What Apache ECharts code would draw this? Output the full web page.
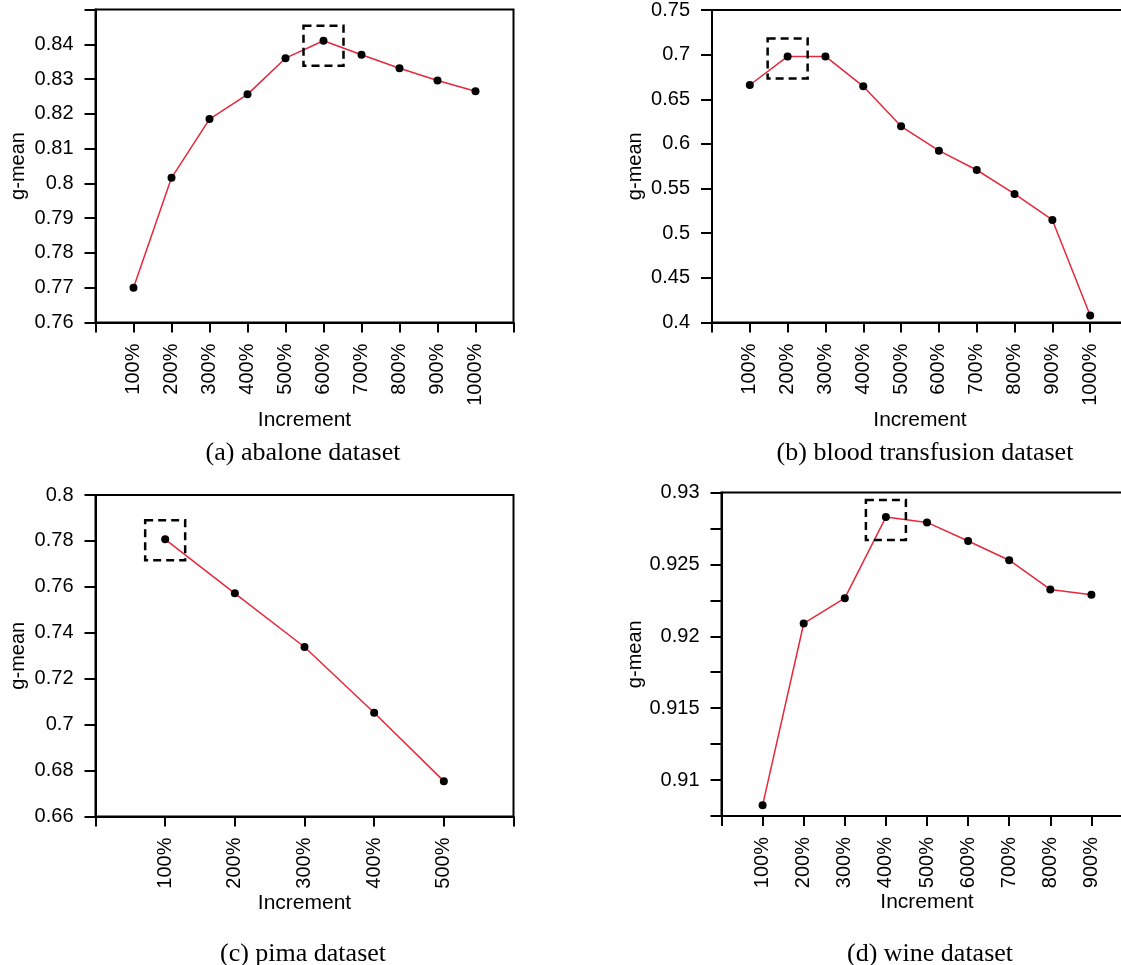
<!DOCTYPE html>
<html>
<head>
<meta charset="utf-8">
<script src="https://cdn.jsdelivr.net/npm/echarts@6/dist/echarts.min.js"></script>
<style>
  html, body { margin: 0; padding: 0; background: #fff; overflow: hidden; width: 1121px; height: 965px; }
  #chart { width: 1140px; height: 965px; }
</style>
</head>
<body>
<div id="chart"></div>
<script>
// ---- Data ----
const catsAbalone = ['100%', '200%', '300%', '400%', '500%', '600%', '700%', '800%', '900%', '1000%'];
const gmeanAbalone = [0.770, 0.8016, 0.8185, 0.8256, 0.8360, 0.8410, 0.8370, 0.8331, 0.8296, 0.8265];

const catsBlood = ['100%', '200%', '300%', '400%', '500%', '600%', '700%', '800%', '900%', '1000%'];
const gmeanBlood = [0.666, 0.698, 0.698, 0.6645, 0.6197, 0.5925, 0.5708, 0.544, 0.5149, 0.4078];

const catsPima = ['100%', '200%', '300%', '400%', '500%'];
const gmeanPima = [0.7807, 0.7572, 0.7338, 0.7052, 0.6754];

const catsWine = ['100%', '200%', '300%', '400%', '500%', '600%', '700%', '800%', '900%'];
const gmeanWine = [0.90824, 0.92089, 0.92265, 0.92829, 0.92792, 0.92663, 0.92529, 0.92326, 0.92289];

const captions = ['(a) abalone dataset', '(b) blood transfusion dataset', '(c) pima dataset', '(d) wine dataset'];

// ---- Styling / layout ----
const SANS = "'Liberation Sans', Arial, Helvetica, sans-serif";
const SERIF = "'Liberation Serif', 'Times New Roman', serif";
const RED = '#e6283c';

const panels = [
  { cats: catsAbalone, vals: gmeanAbalone, grid: { left: 95.5, top: 9.5, width: 418, height: 313 },
    y: { min: 0.76, max: 0.85, interval: 0.01, hideAbove: 0.845 }, xNameGap: 84, yNameGap: 67, boxOff: 5 },
  { cats: catsBlood, vals: gmeanBlood, grid: { left: 712, top: 9.5, width: 416, height: 313 },
    y: { min: 0.40, max: 0.75, interval: 0.05 }, xNameGap: 84, yNameGap: 67, boxOff: 2 },
  { cats: catsPima, vals: gmeanPima, grid: { left: 95.5, top: 495, width: 418, height: 321.5 },
    y: { min: 0.66, max: 0.80, interval: 0.02 }, xNameGap: 74, yNameGap: 67, boxOff: 1 },
  { cats: catsWine, vals: gmeanWine, grid: { left: 721.5, top: 492.5, width: 411, height: 323.5 },
    y: { min: 0.9075, max: 0.93, interval: 0.0025, labelEvery: 0.005 }, xNameGap: 76, yNameGap: 76, boxOff: 3 }
];

const captionPos = [
  { left: 298, top: 435 },
  { left: 920, top: 435 },
  { left: 298, top: 936 },
  { left: 925, top: 936 }
];

function fmtNum(v) { return String(parseFloat(v.toFixed(4))); }

const grids = [], xAxes = [], yAxes = [], series = [], titles = [];

panels.forEach((p, i) => {
  grids.push(Object.assign({ show: true, borderColor: '#000', borderWidth: 2, backgroundColor: 'transparent', containLabel: false }, p.grid));

  xAxes.push({
    type: 'value', gridIndex: i, min: 0, max: p.cats.length + 1, interval: 1,
    axisLine: { show: true, onZero: false, lineStyle: { color: '#000', width: 2 } },
    axisTick: { show: true, length: 10, lineStyle: { color: '#000', width: 2 } },
    splitLine: { show: false },
    axisLabel: {
      rotate: 90, margin: 21, color: '#000', fontSize: 20, fontFamily: SANS,
      showMinLabel: true, showMaxLabel: true,
      formatter: v => p.cats[Math.round(v) - 1] || ''
    },
    name: 'Increment', nameLocation: 'middle', nameGap: p.xNameGap,
    nameTextStyle: { color: '#000', fontSize: 21, fontFamily: SANS }
  });

  yAxes.push({
    type: 'value', gridIndex: i, min: p.y.min, max: p.y.max, interval: p.y.interval,
    axisLine: { show: true, onZero: false, lineStyle: { color: '#000', width: 2 } },
    axisTick: { show: true, length: 11, lineStyle: { color: '#000', width: 2 } },
    splitLine: { show: false },
    axisLabel: {
      margin: 22, color: '#000', fontSize: 20, fontFamily: SANS,
      showMinLabel: true, showMaxLabel: true,
      formatter: v => {
        if (p.y.hideAbove && v > p.y.hideAbove) return '';
        if (p.y.labelEvery) {
          const k = Math.round(v / p.y.interval);
          const step = Math.round(p.y.labelEvery / p.y.interval);
          if (k % step !== 0) return '';
        }
        return fmtNum(v);
      }
    },
    name: 'g-mean', nameLocation: 'middle', nameGap: p.yNameGap,
    nameTextStyle: { color: '#000', fontSize: 20, fontFamily: SANS }
  });

  // index of best (first maximum) value, highlighted by a dashed box
  let best = 0;
  p.vals.forEach((v, k) => { if (v > p.vals[best]) best = k; });

  series.push({
    type: 'line', xAxisIndex: i, yAxisIndex: i,
    data: p.vals.map((v, k) => [k + 1, v]),
    symbol: 'circle', symbolSize: 8,
    itemStyle: { color: '#000' },
    lineStyle: { color: RED, width: 1.5 },
    emphasis: { disabled: true },
    z: 3,
    markPoint: {
      silent: true,
      symbol: 'rect', symbolSize: [40, 40], symbolOffset: [0, p.boxOff],
      label: { show: false },
      itemStyle: { color: 'rgba(0,0,0,0)', borderColor: '#000', borderWidth: 2.5, borderType: [8, 5] },
      data: [{ coord: [best + 1, p.vals[best]] }]
    }
  });

  titles.push({
    text: captions[i], left: captionPos[i].left, top: captionPos[i].top, textAlign: 'center',
    textStyle: { color: '#000', fontSize: 26, fontWeight: 'normal', fontFamily: SERIF }
  });
});

const chart = echarts.init(document.getElementById('chart'), null, { renderer: 'canvas' });
chart.setOption({
  animation: false,
  backgroundColor: '#fff',
  title: titles,
  grid: grids,
  xAxis: xAxes,
  yAxis: yAxes,
  series: series
});
</script>
</body>
</html>
